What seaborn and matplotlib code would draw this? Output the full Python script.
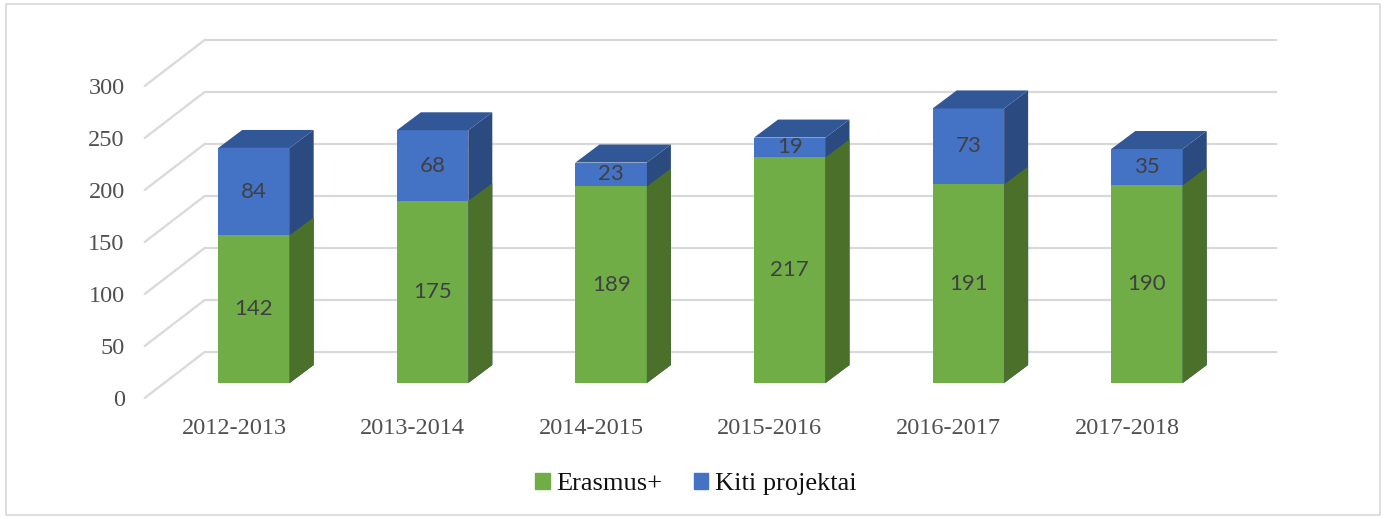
import pandas as pd
import matplotlib.pyplot as plt
import matplotlib.transforms as mtransforms
from matplotlib.patches import Polygon, Rectangle, Patch
import seaborn as sns

years = ['2012-2013', '2013-2014', '2014-2015', '2015-2016', '2016-2017', '2017-2018']
erasmus = [142, 175, 189, 217, 191, 190]
kiti = [84, 68, 23, 19, 73, 35]
yticks = [0, 50, 100, 150, 200, 250, 300]

green, green_side = '#70AD47', '#4A7029'
blue, blue_side, blue_top = '#4472C4', '#2A4A80', '#325797'
grid_col = '#D9D9D9'

df = pd.DataFrame({'year': years, 'erasmus': erasmus, 'kiti': kiti})
df['total'] = df['erasmus'] + df['kiti']

sns.set_style('white')
fig = plt.figure(figsize=(13.86, 5.19), dpi=100)
ax = fig.add_axes([0.1188, 0.262, 0.7732, 0.6012])

# stacked look: totals in blue, erasmus drawn over them in green
sns.barplot(data=df, x='year', y='total', color=blue, width=0.4, saturation=1,
            errorbar=None, linewidth=0, ax=ax)
sns.barplot(data=df, x='year', y='erasmus', color=green, width=0.4, saturation=1,
            errorbar=None, linewidth=0, ax=ax)
ax.set_xlim(-0.5, 5.5)
ax.set_ylim(0, 300)
ax.set_xlabel('')
ax.set_ylabel('')
for s in ax.spines.values():
    s.set_visible(False)
ax.patch.set_alpha(0)


def shift(x, y, dx, dy):
    # move a data point by dx, dy pixels
    px, py = ax.transData.transform((x, y))
    return tuple(ax.transData.inverted().transform((px + dx, py + dy)))


depth = (24, 18)      # bar depth
back = (40, 31)       # back wall
front = (-20, -15)    # front edge of floor

# fake 3d: back wall gridlines + floor diagonals
for v in yticks:
    a = shift(-0.5, v, *front)
    b = shift(-0.5, v, *back)
    c = shift(5.5, v, *back)
    ax.plot([a[0], b[0], c[0]], [a[1], b[1], c[1]], color=grid_col, lw=1.6,
            zorder=0, clip_on=False, solid_joinstyle='miter')

n = len(years)
bars = ax.patches[:2 * n]
for i, p in enumerate(bars):
    x0, w, h = p.get_x(), p.get_width(), p.get_height()
    is_blue = i < n
    side = [(x0 + w, 0), (x0 + w, h), shift(x0 + w, h, *depth), shift(x0 + w, 0, *depth)]
    ax.add_patch(Polygon(side, closed=True, facecolor=blue_side if is_blue else green_side,
                         lw=0, zorder=3 if is_blue else 4, clip_on=False))
    if is_blue:
        top = [(x0, h), (x0 + w, h), shift(x0 + w, h, *depth), shift(x0, h, *depth)]
        ax.add_patch(Polygon(top, closed=True, facecolor=blue_top, lw=0, zorder=3,
                             clip_on=False))

for i in range(n):
    ax.text(i, erasmus[i] / 2, str(erasmus[i]), ha='center', va='center',
            fontsize=16, family='Lato', color='#404040', zorder=6)
    ax.text(i, erasmus[i] + kiti[i] / 2, str(kiti[i]), ha='center', va='center',
            fontsize=16, family='Lato', color='#404040', zorder=6)

ax.set_yticks(yticks)
ax.set_yticklabels([str(v) for v in yticks])
ax.tick_params(length=0, labelsize=17.5, labelcolor='#505050')
ax.tick_params(axis='y', pad=14.4)
ax.tick_params(axis='x', pad=14.5)
off = mtransforms.ScaledTranslation(front[0] / 100, front[1] / 100, fig.dpi_scale_trans)
for lab in ax.get_yticklabels() + ax.get_xticklabels():
    lab.set_family('Liberation Serif')
    lab.set_transform(lab.get_transform() + off)

handles = [Patch(color=green, label='Erasmus+'), Patch(color=blue, label='Kiti projektai')]
leg = fig.legend(handles=handles, loc='center', bbox_to_anchor=(0.502, 1 - 484 / 519),
                 ncol=2, frameon=False, prop=dict(family='Liberation Serif', size=19),
                 handlelength=0.55, handleheight=0.55, handletextpad=0.25, columnspacing=1.2)
for t in leg.get_texts():
    t.set_color('#111111')

fig.add_artist(Rectangle((0.004, 0.008), 0.992, 0.984, transform=fig.transFigure,
                         fill=False, edgecolor=grid_col, lw=1.2))

fig.savefig('out.png', dpi=100)
